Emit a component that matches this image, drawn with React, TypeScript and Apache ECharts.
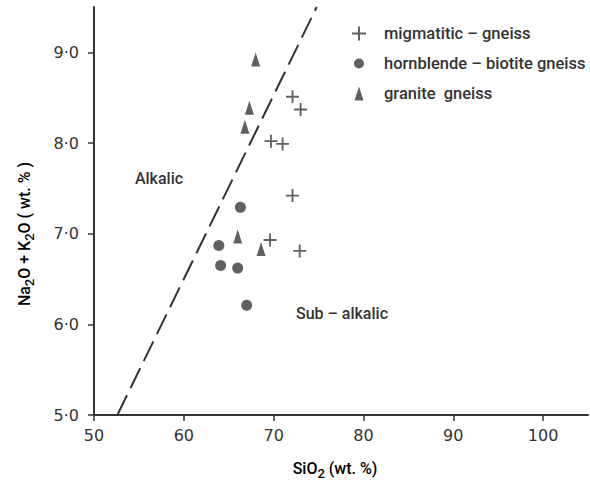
import React, { useEffect, useRef } from "react";
import * as echarts from "echarts";

// SiO2 (wt.%), Na2O + K2O (wt.%)
const migmatitic: number[][] = [
  [72.1, 8.51], [73.0, 8.37], [69.7, 8.02], [71.0, 7.99],
  [72.1, 7.42], [69.6, 6.93], [72.9, 6.81],
];
const hornblende: number[][] = [
  [66.3, 7.29], [63.9, 6.87], [64.1, 6.65], [66.0, 6.62], [67.0, 6.21],
];
const granite: number[][] = [
  [68.0, 8.92], [67.3, 8.39], [66.8, 8.18], [66.0, 6.97], [68.6, 6.83],
];
const divider: number[][] = [[52.6, 5.0], [74.8, 9.5]];
const xTicks = [50, 60, 70, 80, 90, 100];
const yTicks = [5, 6, 7, 8, 9];
const seriesNames = ["migmatitic – gneiss", "hornblende – biotite gneiss", "granite  gneiss"];

const CROSS = "path://M6,0H8V6H14V8H8V14H6V8H0V6H6Z";
const TRI = "path://M4.5,0L9,14L0,14Z";
const CROSS_ICON = "path://M0,0M14,14M6,0H8V6H14V8H8V14H6V8H0V6H6Z";
const CIRCLE_ICON = "path://M0,0M14,14M7,2A5,5,0,1,1,7,12A5,5,0,1,1,7,2Z";
const TRI_ICON = "path://M0,0M14,14M7,0L11.5,14L2.5,14Z";

const INK = "#333";
const MARK = "#3a3a3a";
const TEXT_FONT = "Roboto";
const NUM_FONT = "DejaVu Sans";

const richSub = {
  n: { fontFamily: TEXT_FONT, fontSize: 16, fontWeight: 500, color: INK, lineHeight: 18, verticalAlign: "middle" },
  s: { fontFamily: TEXT_FONT, fontSize: 13, fontWeight: 500, color: INK, lineHeight: 24, verticalAlign: "bottom" },
};

export default function App() {
  const ref = useRef<HTMLDivElement>(null);
  useEffect(() => {
    if (!ref.current) return;
    const chart = echarts.init(ref.current, null, { renderer: "svg" });
    const fmt = (v: number) => v.toFixed(1).replace(".", "·");
    chart.setOption({
      animation: false,
      backgroundColor: "#fff",
      grid: { left: 94, right: 2, top: 7, bottom: 70, outerBoundsMode: "none" },
      xAxis: {
        type: "value",
        min: 50,
        max: 105,
        interval: 10,
        splitLine: { show: false },
        axisLine: { show: true, onZero: false, lineStyle: { color: INK, width: 2 } },
        axisTick: { show: true, length: 6, customValues: xTicks, lineStyle: { color: INK, width: 1.5 } },
        axisLabel: { customValues: xTicks, fontFamily: NUM_FONT, fontSize: 16, color: INK, margin: 12 },
      },
      yAxis: {
        type: "value",
        min: 5,
        max: 9.5,
        interval: 1,
        splitLine: { show: false },
        axisLine: { show: true, onZero: false, lineStyle: { color: INK, width: 2 } },
        axisTick: { show: true, length: 6, customValues: yTicks, lineStyle: { color: INK, width: 1.5 } },
        axisLabel: { customValues: yTicks, formatter: fmt, fontFamily: NUM_FONT, fontSize: 16, color: INK, margin: 15 },
      },
      legend: {
        orient: "vertical",
        left: 347,
        top: 20,
        itemWidth: 14,
        itemHeight: 14,
        itemGap: 13,
        symbolKeepAspect: true,
        textStyle: {
          fontFamily: TEXT_FONT, fontSize: 16.5, fontWeight: 500, color: INK,
          padding: [0, 0, 0, 13], lineHeight: 14,
        },
        data: [
          { name: seriesNames[0], icon: CROSS_ICON },
          { name: seriesNames[1], icon: CIRCLE_ICON },
          { name: seriesNames[2], icon: TRI_ICON },
        ],
      },
      graphic: [
        {
          type: "text", x: 24, y: 234, rotation: Math.PI / 2,
          style: {
            text: "{n|Na}{s|2}{n|O + K}{s|2}{n|O ( wt. % )}",
            rich: richSub, align: "center", verticalAlign: "middle",
          },
        },
        {
          type: "text", x: 335, y: 468,
          style: {
            text: "{n|SiO}{s|2}{n| (wt. %)}",
            rich: richSub, align: "center", verticalAlign: "middle",
          },
        },
        {
          type: "text", x: 159, y: 178,
          style: { text: "Alkalic", fontFamily: TEXT_FONT, fontSize: 16, fontWeight: 500, fill: INK, align: "center", verticalAlign: "middle" },
        },
        {
          type: "text", x: 342, y: 313,
          style: { text: "Sub – alkalic", fontFamily: TEXT_FONT, fontSize: 16, fontWeight: 500, fill: INK, align: "center", verticalAlign: "middle" },
        },
      ],
      series: [
        {
          type: "line",
          data: divider,
          symbol: "none",
          silent: true,
          lineStyle: { color: INK, width: 2, type: [22, 8] },
          z: 1,
        },
        {
          name: seriesNames[0], type: "scatter", data: migmatitic,
          symbol: CROSS, symbolSize: 13, itemStyle: { color: MARK }, z: 3,
        },
        {
          name: seriesNames[1], type: "scatter", data: hornblende,
          symbol: "circle", symbolSize: 11, itemStyle: { color: MARK }, z: 3,
        },
        {
          name: seriesNames[2], type: "scatter", data: granite,
          symbol: TRI, symbolSize: [9, 14], itemStyle: { color: MARK }, z: 3,
        },
      ],
    });
    return () => chart.dispose();
  }, []);
  return (
    <div
      ref={ref}
      style={{ position: "fixed", left: 0, top: 0, width: 590, height: 485, background: "#fff" }}
    />
  );
}
